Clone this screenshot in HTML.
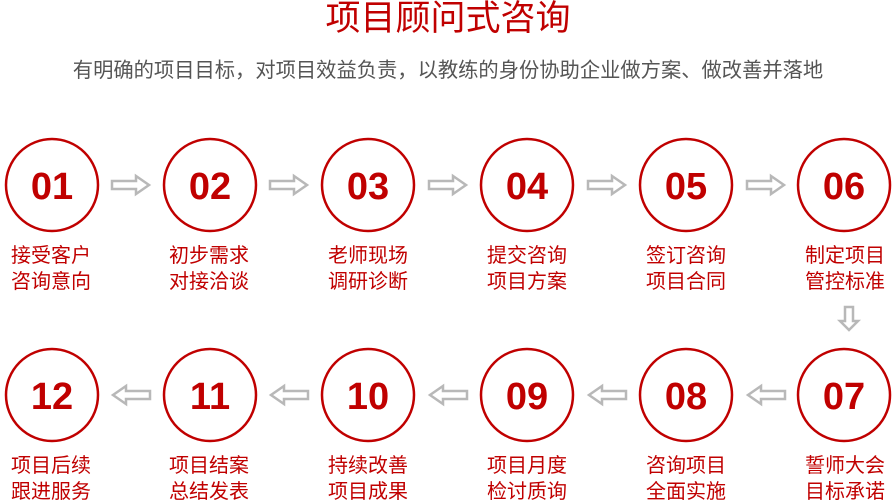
<!DOCTYPE html>
<html><head><meta charset="utf-8"><style>
body{margin:0;background:#fff;width:896px;height:500px;overflow:hidden}
svg{display:block}
text{font-family:"Liberation Sans","Noto Sans CJK SC",sans-serif}
.n{font-size:38px;font-weight:bold;fill:#c00000;text-anchor:middle}
.l{font-size:20px;fill:#c00000;text-anchor:middle}
</style></head><body>
<svg width="896" height="500" viewBox="0 0 896 500">
<defs>
<path id="ar" d="M0,-4 H24 V-9 L37,0 L24,9 V4 H0 Z" fill="#fff" stroke="#b8b8b8" stroke-width="2.5"/>
<path id="dn" d="M0,-4 H14 V-9 L23,0 L14,9 V4 H0 Z" fill="#fff" stroke="#b8b8b8" stroke-width="2.5"/>
</defs>
<text x="448" y="30" text-anchor="middle" font-size="35" fill="#c00000">项目顾问式咨询</text>
<text x="448" y="77" text-anchor="middle" font-size="20.3" fill="#555">有明确的项目目标，对项目效益负责，以教练的身份协助企业做方案、做改善并落地</text>
<g fill="none" stroke="#c00000" stroke-width="2.5">
<circle cx="52" cy="185" r="46"/><circle cx="210" cy="185" r="46"/><circle cx="368" cy="185" r="46"/>
<circle cx="527" cy="185" r="46"/><circle cx="686" cy="185" r="46"/><circle cx="844" cy="185" r="46"/>
<circle cx="52" cy="395" r="46"/><circle cx="210" cy="395" r="46"/><circle cx="368" cy="395" r="46"/>
<circle cx="527" cy="395" r="46"/><circle cx="686" cy="395" r="46"/><circle cx="844" cy="395" r="46"/>
</g>
<g>
<text x="52" y="199" class="n">01</text><text x="210" y="199" class="n">02</text><text x="368" y="199" class="n">03</text>
<text x="527" y="199" class="n">04</text><text x="686" y="199" class="n">05</text><text x="844" y="199" class="n">06</text>
<text x="52" y="409" class="n">12</text><text x="210" y="409" class="n">11</text><text x="368" y="409" class="n">10</text>
<text x="527" y="409" class="n">09</text><text x="686" y="409" class="n">08</text><text x="844" y="409" class="n">07</text>
</g>
<g>
<text class="l" x="51" y="262">接受客户</text><text class="l" x="51" y="288">咨询意向</text>
<text class="l" x="209" y="262">初步需求</text><text class="l" x="209" y="288">对接洽谈</text>
<text class="l" x="368" y="262">老师现场</text><text class="l" x="368" y="288">调研诊断</text>
<text class="l" x="527" y="262">提交咨询</text><text class="l" x="527" y="288">项目方案</text>
<text class="l" x="686" y="262">签订咨询</text><text class="l" x="686" y="288">项目合同</text>
<text class="l" x="845" y="262">制定项目</text><text class="l" x="845" y="288">管控标准</text>
<text class="l" x="51" y="472">项目后续</text><text class="l" x="51" y="498">跟进服务</text>
<text class="l" x="209" y="472">项目结案</text><text class="l" x="209" y="498">总结发表</text>
<text class="l" x="368" y="472">持续改善</text><text class="l" x="368" y="498">项目成果</text>
<text class="l" x="527" y="472">项目月度</text><text class="l" x="527" y="498">检讨质询</text>
<text class="l" x="686" y="472">咨询项目</text><text class="l" x="686" y="498">全面实施</text>
<text class="l" x="845" y="472">誓师大会</text><text class="l" x="845" y="498">目标承诺</text>
</g>
<use href="#ar" transform="translate(112,185)"/>
<use href="#ar" transform="translate(270,185)"/>
<use href="#ar" transform="translate(429,185)"/>
<use href="#ar" transform="translate(588,185)"/>
<use href="#ar" transform="translate(747,185)"/>
<use href="#dn" transform="translate(849,307) rotate(90)"/>
<use href="#ar" transform="translate(785,395) rotate(180)"/>
<use href="#ar" transform="translate(626,395) rotate(180)"/>
<use href="#ar" transform="translate(467,395) rotate(180)"/>
<use href="#ar" transform="translate(308,395) rotate(180)"/>
<use href="#ar" transform="translate(150,395) rotate(180)"/>
</svg>
</body></html>
